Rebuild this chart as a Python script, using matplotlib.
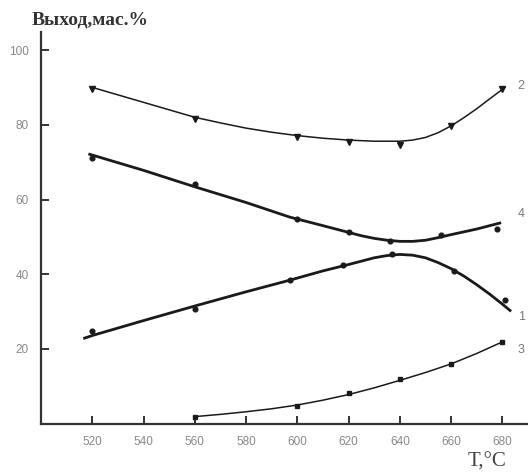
import matplotlib
matplotlib.use('Agg')
import matplotlib.pyplot as plt

# measured points (markers)
t1 = [520, 560, 597, 618, 637, 661, 681]
y1 = [24.7, 30.6, 38.5, 42.6, 45.5, 40.8, 33.2]
t2 = [520, 560, 600, 620, 640, 660, 680]
y2 = [89.7, 81.5, 76.6, 75.5, 74.7, 79.8, 89.7]
t3 = [560, 600, 620, 640, 660, 680]
y3 = [1.9, 4.8, 8.1, 11.9, 16.1, 21.9]
t4 = [520, 560, 600, 620, 636, 656, 678]
y4 = [71.0, 64.2, 54.9, 51.2, 48.9, 50.4, 52.2]

# fitted curves
c1_t = [517, 520, 540, 560, 580, 597, 610, 620, 630, 635, 640, 645, 650, 655, 660, 665, 670, 675, 680, 683]
c1_y = [22.9, 23.6, 27.6, 31.5, 35.3, 38.4, 40.9, 42.6, 44.4, 45.0, 45.3, 45.1, 44.4, 43.1, 41.5, 39.5, 37.2, 34.7, 32.0, 30.3]
c2_t = [520, 530, 540, 550, 560, 570, 580, 590, 600, 610, 620, 630, 640, 645, 650, 655, 660, 665, 670, 675, 681]
c2_y = [90.0, 88.0, 86.0, 84.0, 82.0, 80.5, 79.1, 78.0, 77.1, 76.4, 75.9, 75.6, 75.6, 75.9, 76.6, 77.9, 79.7, 81.9, 84.3, 86.9, 90.0]
c3_t = [560, 570, 580, 590, 600, 610, 620, 630, 640, 650, 660, 670, 680]
c3_y = [1.9, 2.5, 3.2, 4.0, 5.0, 6.3, 7.8, 9.6, 11.6, 13.7, 16.0, 18.8, 21.9]
c4_t = [519, 540, 560, 580, 597, 610, 620, 625, 630, 635, 640, 645, 650, 655, 660, 670, 679]
c4_y = [72.1, 67.8, 63.4, 59.2, 55.3, 53.0, 51.2, 50.3, 49.6, 49.1, 48.8, 48.8, 49.1, 49.8, 50.6, 52.1, 53.7]

xticks = [520, 540, 560, 580, 600, 620, 640, 660, 680]
yticks = [20, 40, 60, 80, 100]

fig = plt.figure(figsize=(5.28, 4.72), dpi=100)
ax = fig.add_axes([0.0777, 0.1023, 0.9223, 0.8297])

ink = '#1a1a1a'
ax.plot(c2_t, c2_y, color=ink, lw=1.1)
ax.plot(c3_t, c3_y, color=ink, lw=1.1)
ax.plot(c4_t, c4_y, color=ink, lw=2.0)
ax.plot(c1_t, c1_y, color=ink, lw=2.0)

ax.plot(t2, y2, 'v', color=ink, ms=4.2, ls='none')
ax.plot(t3, y3, 's', color=ink, ms=3.3, ls='none')
ax.plot(t4, y4, 'o', color=ink, ms=3.4, ls='none')
ax.plot(t1, y1, 'o', color=ink, ms=3.4, ls='none')

lab = '#777777'
for txt, xx, yy in [('2', 686, 90.5), ('4', 686, 56), ('1', 686, 28.5), ('3', 686, 19.8)]:
    ax.text(xx, yy, txt, color=lab, fontsize=9, family='Liberation Sans', va='center', ha='left')

ax.set_xlim(500, 690)
ax.set_ylim(0, 104.8)
ax.set_xticks(xticks)
ax.set_yticks(yticks)
for s in ['top', 'right']:
    ax.spines[s].set_visible(False)
for s in ['left', 'bottom']:
    ax.spines[s].set_linewidth(1.6)
    ax.spines[s].set_color('#333333')
ax.tick_params(direction='in', length=6, width=1.4, color='#333333',
               labelcolor='#888888', labelsize=8.5, pad=9)
for l in ax.get_xticklabels() + ax.get_yticklabels():
    l.set_family('Liberation Sans')

fig.text(32/528, 1 - 20/472, 'Выход,мас.%', fontsize=14, fontweight='bold',
         family='Liberation Serif', color='#333333', va='center', ha='left')
fig.text(506/528, 1 - 462/472, 'T,°C', fontsize=15, family='Liberation Serif',
         color='#444444', va='center', ha='right')

fig.savefig('out.png', dpi=100)
